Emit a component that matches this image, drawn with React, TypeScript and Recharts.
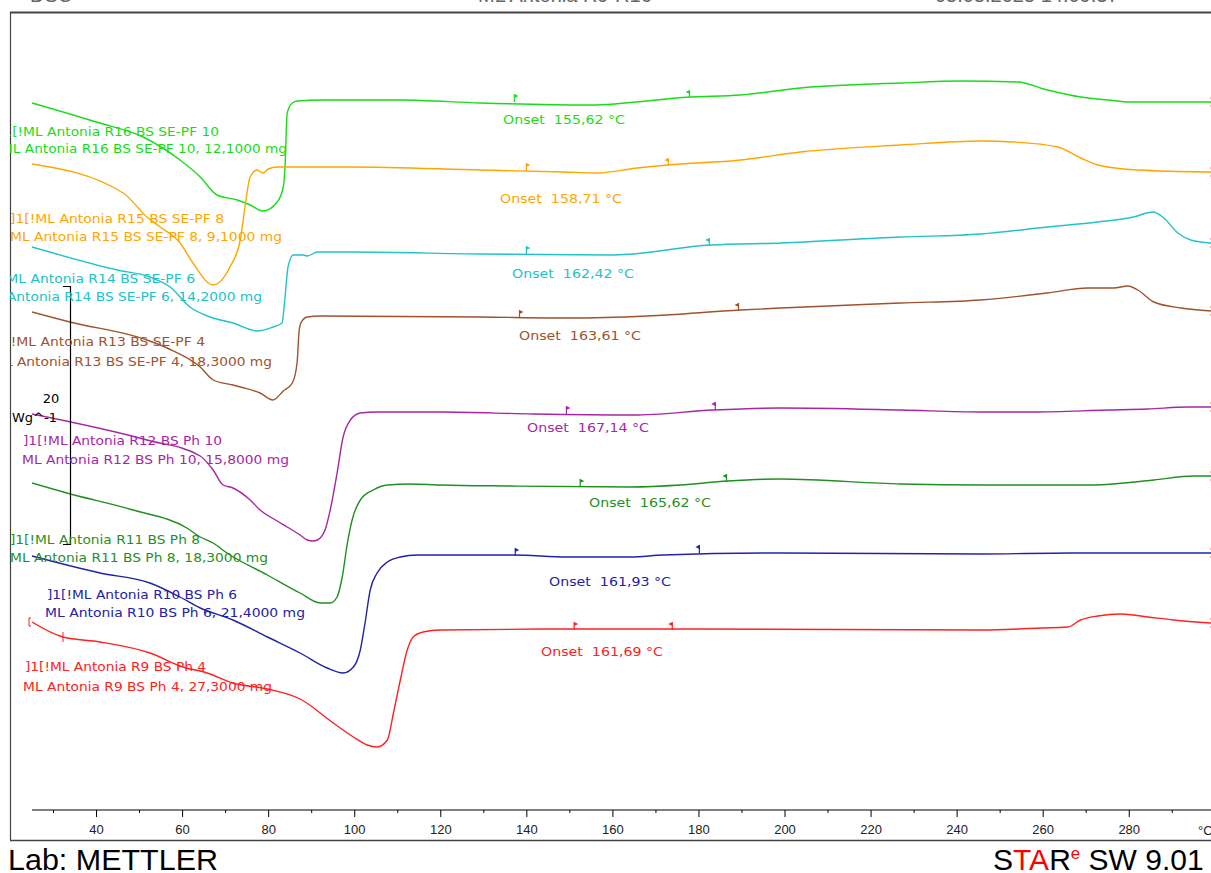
import React from 'react';
import { LineChart, Line, XAxis, YAxis, ReferenceDot } from 'recharts';

type Pt = [number, number];

// DSC curves: [temperature °C, heat flow (offset, arbitrary units)]
const r16: Pt[] = [
  [25, 70.7], [39.9, 68.8], [50.8, 67.3], [59.4, 65.0], [64.1, 63.3], [68.0, 61.5], [72.7, 61.0],
  [75.7, 60.5], [78.7, 59.9], [82.0, 60.8], [83.4, 62.3], [83.8, 64.3], [84.3, 69.7], [85.5, 70.7],
  [86.6, 70.9], [92.7, 71.0], [110.6, 71.0], [129.2, 70.7], [154.8, 70.5], [178.0, 71.3], [189.7, 71.5],
  [203.6, 72.2], [226.9, 72.7], [240.8, 72.9], [254.1, 72.8], [261.0, 72.0], [268.7, 71.3], [275.0, 71.0],
  [280.3, 70.8], [299.0, 70.8],
];
const r15: Pt[] = [
  [25, 64.6], [46.2, 61.7], [51.7, 59.3], [54.8, 58.3], [59.4, 56.7], [62.4, 54.7], [67.1, 52.5],
  [71.0, 54.3], [73.4, 57.0], [74.5, 60.3], [75.7, 63.3], [77.3, 64.0], [78.7, 63.7], [79.9, 64.1],
  [82.0, 64.3], [87.3, 64.3], [99.0, 64.3], [129.2, 64.0], [148.5, 63.8], [156.4, 63.7], [165.7, 64.2],
  [172.7, 64.5], [189.7, 65.0], [203.6, 65.8], [226.9, 66.5], [245.5, 66.9], [253.1, 66.8], [263.4, 66.3],
  [268.7, 65.2], [272.7, 64.5], [282.0, 64.0], [299.0, 63.8],
];
const r14: Pt[] = [
  [25, 56.3], [44.8, 54.0], [52.4, 53.3], [57.1, 52.3], [61.7, 50.3], [66.4, 49.3], [71.7, 48.7],
  [77.3, 47.9], [81.0, 48.3], [83.1, 48.7], [83.8, 51.3], [84.5, 54.3], [85.7, 55.5], [88.0, 55.5],
  [89.0, 55.4], [91.3, 55.8], [99.0, 55.8], [129.2, 55.6], [160.1, 55.5], [182.7, 56.5], [199.0, 56.7],
  [226.9, 57.3], [245.5, 57.6], [261.0, 58.3], [272.7, 58.8], [281.0, 59.3], [285.5, 59.8], [287.8, 59.3],
  [291.3, 57.7], [294.3, 57.0], [299.0, 56.7],
];
const r13: Pt[] = [
  [25, 49.8], [33.8, 48.8], [51.7, 47.0], [56.4, 46.2], [64.1, 44.3], [67.1, 43.0], [71.7, 42.5],
  [73.4, 42.3], [78.0, 41.7], [81.0, 41.0], [83.4, 41.9], [85.5, 42.7], [86.6, 44.7], [87.1, 48.0],
  [87.6, 48.8], [89.0, 49.3], [92.0, 49.4], [129.2, 49.3], [150.1, 49.2], [168.0, 49.4], [189.7, 50.0],
  [199.0, 50.2], [226.9, 50.7], [245.5, 51.0], [261.0, 51.7], [270.3, 52.2], [276.4, 52.2], [279.7, 52.4],
  [282.0, 52.0], [285.7, 50.8], [292.0, 50.2], [299.0, 49.9],
];
const r12: Pt[] = [
  [25, 39.6], [51.7, 37.0], [64.1, 35.4], [67.1, 34.0], [69.4, 32.5], [71.7, 32.2], [75.7, 31.0],
  [78.0, 30.0], [82.0, 28.9], [84.3, 28.3], [87.3, 27.5], [89.0, 27.0], [90.2, 26.9], [91.3, 27.0],
  [93.1, 28.0], [94.3, 30.0], [95.9, 33.7], [97.3, 37.3], [99.0, 39.0], [101.3, 39.7], [105.2, 39.8],
  [119.9, 39.8], [141.5, 39.6], [164.8, 39.5], [183.4, 40.0], [199.0, 40.2], [226.9, 40.0], [245.5, 39.8],
  [257.8, 39.8], [275.0, 40.0], [284.3, 40.1], [293.6, 40.3], [299.0, 40.3],
];
const r11: Pt[] = [
  [25, 32.7], [33.1, 31.7], [48.5, 30.0], [61.0, 28.2], [64.1, 27.3], [67.1, 26.7], [70.3, 25.7],
  [79.7, 23.5], [87.3, 21.7], [92.0, 20.7], [94.3, 20.7], [95.9, 21.3], [97.1, 23.3], [98.3, 26.7],
  [99.4, 29.0], [101.3, 31.0], [104.3, 32.0], [107.6, 32.5], [112.9, 32.6], [119.9, 32.5], [136.2, 32.4],
  [164.1, 32.3], [175.7, 32.5], [186.6, 32.9], [199.0, 33.1], [226.9, 32.6], [245.5, 32.5], [271.0, 32.5],
  [278.7, 32.7], [285.7, 33.0], [295.0, 33.4], [299.0, 33.4],
];
const r10: Pt[] = [
  [25, 25.4], [40.8, 23.7], [52.4, 22.7], [59.4, 21.3], [64.1, 20.2], [71.7, 19.0], [79.7, 17.3],
  [87.3, 15.7], [93.6, 14.2], [97.3, 13.7], [99.7, 14.3], [101.3, 16.0], [102.4, 18.7],
  [103.6, 22.0], [105.2, 23.7], [107.6, 24.8], [110.6, 25.3], [114.5, 25.5], [119.9, 25.5], [136.9, 25.5],
  [149.4, 25.3], [164.1, 25.3], [171.7, 25.5], [199.0, 25.7], [245.5, 25.6], [266.4, 25.7], [299.0, 25.7],
];
const r9: Pt[] = [
  [25, 18.8], [32.2, 17.3], [40.8, 16.8], [52.4, 15.7], [60.1, 14.3], [65.7, 13.7], [71.7, 12.7],
  [79.7, 12.1], [87.3, 11.1], [95.0, 8.7], [99.7, 7.3], [102.9, 6.5], [105.2, 6.3], [107.6, 7.0],
  [109.0, 9.7], [110.6, 13.0], [112.2, 16.0], [113.6, 17.3], [115.9, 17.8], [119.9, 18.0], [147.8, 18.1],
  [180.3, 18.1], [245.5, 18.0], [259.4, 18.2], [265.7, 18.3], [268.7, 19.0], [272.7, 19.4], [278.0, 19.6],
  [284.3, 19.3], [290.3, 19.0], [299.0, 18.7],
];

const curves = [r16, r15, r14, r13, r12, r11, r10, r9];
const sampleNames = ['R16 BS SE-PF 10', 'R15 BS SE-PF 8', 'R14 BS SE-PF 6', 'R13 BS SE-PF 4', 'R12 BS Ph 10', 'R11 BS Ph 8', 'R10 BS Ph 6', 'R9 BS Ph 4'];
const sampleMass = ['12,1000', '9,1000', '14,2000', '18,3000', '15,8000', '18,3000', '21,4000', '27,3000'];
const onsetValues = ['155,62', '158,71', '162,42', '163,61', '167,14', '165,62', '161,93', '161,69'];
// integration limits (flag marks) on each curve
const limitStart: Pt[] = [[137.1, 70.9], [139.9, 64.0], [139.9, 55.7], [138.3, 49.3], [149.2, 39.7], [152.4, 32.4], [137.3, 25.5], [151.0, 18.1]];
const limitEnd: Pt[] = [[177.8, 71.3], [172.9, 64.5], [182.4, 56.5], [189.2, 50.0], [183.8, 40.1], [186.4, 32.9], [180.1, 25.8], [173.8, 18.1]];

const xTicks = [30, 40, 50, 60, 70, 80, 90, 100, 110, 120, 130, 140, 150, 160, 170, 180, 190, 200, 210, 220, 230, 240, 250, 260, 270, 280, 290];

const colors = ['#19dc19', '#ffa500', '#22c2c6', '#a0522d', '#a626a4', '#1f8f1f', '#2222a8', '#ff2020'];

// label layout (px): [x1, y1, w1, x2, y2, w2]
const labelPos = [
  [-2, 136, 221, 1, 153, 286],
  [10, 223, 214, 10, 241, 272],
  [-19, 283, 214, -17, 301, 279],
  [-9, 346, 214, -7, 366, 279],
  [23, 445, 199, 22, 464, 267],
  [10, 544, 190, 10, 562, 258],
  [47, 599, 190, 45, 617, 260],
  [25, 671, 181, 23, 691, 249],
];
const onsetPos = [[503, 124], [500, 203], [512, 278], [519, 340], [527, 432], [589, 507], [549, 586], [541, 656]];

const labelFont = "Tahoma, 'DejaVu Sans', Verdana, sans-serif";
const axisFont = "Arial, 'Liberation Sans', sans-serif";

const AxisTick = (props: any) => {
  const { x, y, payload } = props;
  const major = payload.value % 20 === 0;
  return (
    <g>
      <line x1={x} x2={x} y1={y} y2={y + (major ? 7 : 3)} stroke="#000" strokeWidth={1} />
      {major && (
        <text x={x} y={y + 24} textAnchor="middle" fontSize={13} fontFamily={axisFont} fill="#222">
          {payload.value}
        </text>
      )}
    </g>
  );
};

const flag = (color: string, dir: number) => (p: any) => (
  <g>
    <line x1={p.cx} y1={p.cy + 1} x2={p.cx} y2={p.cy - 7} stroke={color} strokeWidth={1.2} />
    <path d={`M${p.cx} ${p.cy - 7} L${p.cx + dir * 4} ${p.cy - 5} L${p.cx} ${p.cy - 3} Z`} fill={color} />
  </g>
);

const endMark = (p: any) => (
  <path d={`M${p.cx - 1} ${p.cy - 4} h2 v8 h-2`} stroke="#ff6060" strokeWidth={1.2} fill="none" />
);
const startBracket = (p: any) => (
  <path d={`M${p.cx - 1} ${p.cy - 4} h-2 v8 h2`} stroke="#ff2020" strokeWidth={1} fill="none" />
);
const crossMark = (p: any) => (
  <line x1={p.cx} x2={p.cx} y1={p.cy - 5} y2={p.cy + 5} stroke="#ff2020" strokeWidth={1} />
);

export default function App() {
  return (
    <div style={{ position: 'absolute', left: 0, top: 0, width: 1211, height: 873, overflow: 'hidden', background: '#fff' }}>
      <div style={{ position: 'absolute', left: 0, top: 0 }}>
        <LineChart width={1211} height={873} margin={{ top: 10, right: 0, left: 32, bottom: 33 }}>
          <XAxis
            type="number"
            dataKey="t"
            domain={[25, 299]}
            ticks={xTicks}
            allowDataOverflow
            height={30}
            tickSize={0}
            tickMargin={0}
            tickLine={false}
            axisLine={{ stroke: '#000', strokeWidth: 1.2 }}
            tick={<AxisTick />}
            interval={0}
          />
          <YAxis type="number" domain={[0, 80]} hide allowDataOverflow />
          {curves.map((c, i) => (
            <Line
              key={sampleNames[i]}
              data={c.map(([t, v]) => ({ t, v }))}
              dataKey="v"
              type="monotone"
              stroke={colors[i]}
              strokeWidth={1.4}
              dot={false}
              activeDot={false}
              isAnimationActive={false}
            />
          ))}
          {limitStart.map(([t, v], i) => (
            <ReferenceDot key={'s' + i} x={t} y={v} r={2} shape={flag(colors[i], 1)} />
          ))}
          {limitEnd.map(([t, v], i) => (
            <ReferenceDot key={'e' + i} x={t} y={v} r={2} shape={flag(colors[i], -1)} />
          ))}
          {curves.map((c, i) => (
            <ReferenceDot key={'m' + i} x={c[c.length - 1][0]} y={c[c.length - 1][1]} r={2} shape={endMark} ifOverflow="visible" />
          ))}
          <ReferenceDot x={r9[0][0]} y={r9[0][1]} r={2} shape={startBracket} ifOverflow="visible" />
          <ReferenceDot x={r9[1][0]} y={r9[1][1]} r={2} shape={crossMark} />
        </LineChart>
      </div>
      <svg width={1211} height={873} style={{ position: 'absolute', left: 0, top: 0, pointerEvents: 'none' }}>
        <defs>
          <clipPath id="frameClip">
            <rect x={10} y={12} width={1201} height={828} />
          </clipPath>
        </defs>
        {/* header line, cut off at the top of the page */}
        <g fontFamily={axisFont} fontSize={20} fill="#666">
          <text x={30} y={2}>DSC</text>
          <text x={478} y={2}>ML Antonia R9-R16</text>
          <text x={935} y={2}>05.05.2025 14:09:37</text>
        </g>
        {/* frame */}
        <line x1={10} x2={1211} y1={12.5} y2={12.5} stroke="#444" strokeWidth={2} />
        <line x1={10.5} x2={10.5} y1={12} y2={840} stroke="#444" strokeWidth={1.2} />
        <line x1={10} x2={1211} y1={840.5} y2={840.5} stroke="#444" strokeWidth={1.5} />

        {/* scale bar */}
        <path d="M63 286.5 H70.5 V544.5 H63" stroke="#000" strokeWidth={1.2} fill="none" />
        <text x={51} y={403} textAnchor="middle" fontSize={13} fontFamily={labelFont} fill="#000">20</text>
        <text x={12} y={422} fontSize={13} fontFamily={labelFont} fill="#000">Wg^-1</text>

        <g clipPath="url(#frameClip)" fontFamily={labelFont} fontSize={13}>
          {sampleNames.map((n, i) => {
            const [x1, y1, w1, x2, y2, w2] = labelPos[i];
            return (
              <g key={n} fill={colors[i]}>
                <text x={x1} y={y1} textLength={w1} lengthAdjust="spacingAndGlyphs">{`]1[!ML Antonia ${n}`}</text>
                <text x={x2} y={y2} textLength={w2} lengthAdjust="spacingAndGlyphs">{`ML Antonia ${n}, ${sampleMass[i]} mg`}</text>
              </g>
            );
          })}
          {onsetValues.map((o, i) => (
            <text
              key={o + i}
              x={onsetPos[i][0]}
              y={onsetPos[i][1]}
              fill={colors[i]}
              textLength={122}
              lengthAdjust="spacingAndGlyphs"
              style={{ whiteSpace: 'pre' }}
            >
              {`Onset  ${o} °C`}
            </text>
          ))}
        </g>
        <text x={1198} y={835} fontSize={13} fontFamily={axisFont} fill="#222">°C</text>

        {/* footer */}
        <text x={8} y={870} fontSize={30} fontFamily={axisFont} fill="#000" textLength={210} lengthAdjust="spacingAndGlyphs">Lab: METTLER</text>
        <text x={993} y={870} fontSize={30} fontFamily={axisFont} fill="#000">
          <tspan>S</tspan>
          <tspan fill="#ff0000">TA</tspan>
          <tspan>R</tspan>
          <tspan fill="#ff0000" fontSize={17} dy={-11}>e</tspan>
          <tspan dy={11} style={{ whiteSpace: 'pre' }}> SW 9.01</tspan>
        </text>
      </svg>
    </div>
  );
}
